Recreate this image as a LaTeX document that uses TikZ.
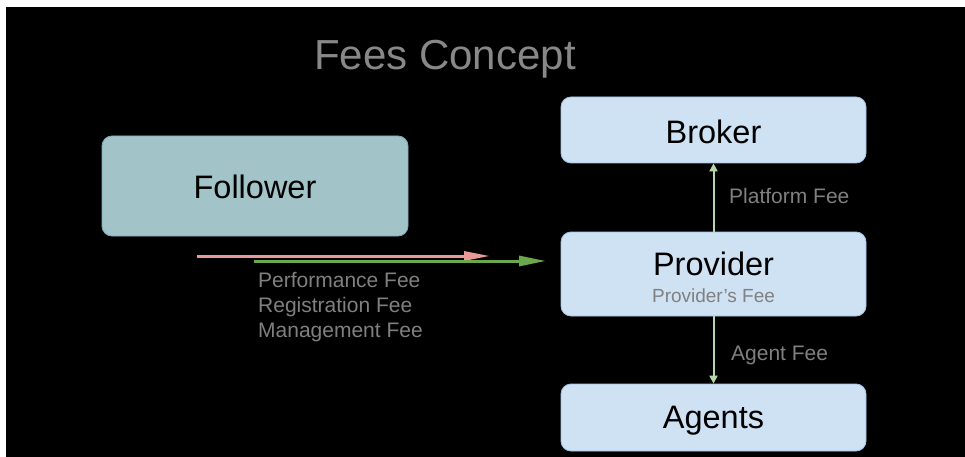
\documentclass[tikz,border=0pt]{standalone}
\usepackage{fontspec}
\setmainfont{Liberation Sans}
\usetikzlibrary{arrows.meta}
\definecolor{tealfill}{HTML}{A2C4C9}
\definecolor{tealline}{HTML}{7FAAB2}
\definecolor{bluefill}{HTML}{CFE2F3}
\definecolor{blueline}{HTML}{9FC5E8}
\definecolor{txtgrey}{HTML}{808080}
\definecolor{titlegrey}{HTML}{888888}
\definecolor{pinkarr}{HTML}{EA9999}
\definecolor{greenarr}{HTML}{6AA84F}
\definecolor{lightgreen}{HTML}{B6D7A8}
\tikzset{
  box/.style={draw, line width=0.8pt, rounded corners=10pt, inner sep=0pt},
  bluebox/.style={box, draw=blueline, fill=bluefill, minimum width=305pt},
  bigtxt/.style={font=\fontsize{32.5}{36}\selectfont, text=black, inner sep=0pt},
  lbl/.style={font=\fontsize{21}{24}\selectfont, text=txtgrey, inner sep=0pt},
  vline/.style={draw=lightgreen, line width=2pt, -{Triangle[length=8pt,width=8pt]}},
  pinkline/.style={draw=pinkarr, line width=3pt, -{Triangle[length=26pt,width=9pt]}},
  greenline/.style={draw=greenarr, line width=3pt, -{Triangle[length=27pt,width=10pt]}},
}
\begin{document}
\begin{tikzpicture}[x=1pt,y=-1pt]
\useasboundingbox (0,0) rectangle (965,457);
\fill[white] (0,0) rectangle (965,457);
\fill[black] (6,7) rectangle (965,457);
\node[font=\fontsize{42}{46}\selectfont, text=titlegrey, inner sep=0pt] (title) at (445,59) {Fees Concept};
% boxes
\node[box, draw=tealline, fill=tealfill, minimum width=306pt, minimum height=100pt] (follower) at (255,186) {};
\node[bigtxt] (followert) at (255,187) {Follower};
\node[bluebox, minimum height=66pt] (broker) at (713.5,130) {};
\node[bigtxt] (brokert) at (713.5,132) {Broker};
\node[bluebox, minimum height=84pt] (prov) at (713.5,274) {};
\node[bigtxt] (provt) at (713.5,264) {Provider};
\node[font=\fontsize{19}{22}\selectfont, text=txtgrey, inner sep=0pt] (provf) at (713.5,296) {Provider’s Fee};
\node[bluebox, minimum height=67pt] (agents) at (713.5,417.5) {};
\node[bigtxt] (agentst) at (713.5,421) {Agents};
% vertical arrows
\draw[vline] (prov.north) -- (broker.south);
\draw[vline] (prov.south) -- (agents.north);
\node[lbl, anchor=west] (platform) at (729,196) {Platform Fee};
\node[lbl, anchor=west] (agentfee) at (731,355) {Agent Fee};
% horizontal arrows
\coordinate (pinkstart) at (197,256);
\coordinate (pinkend) at (490,256);
\coordinate (greenstart) at (254,261);
\coordinate (greenend) at (546,261);
\draw[pinkline] (pinkstart) -- (pinkend);
\draw[greenline] (greenstart) -- (greenend);
\node[lbl, anchor=north west, align=left, font=\fontsize{21}{25}\selectfont] (fees) at (258,272) {Performance Fee\\Registration Fee\\Management Fee};
\end{tikzpicture}
\end{document}
